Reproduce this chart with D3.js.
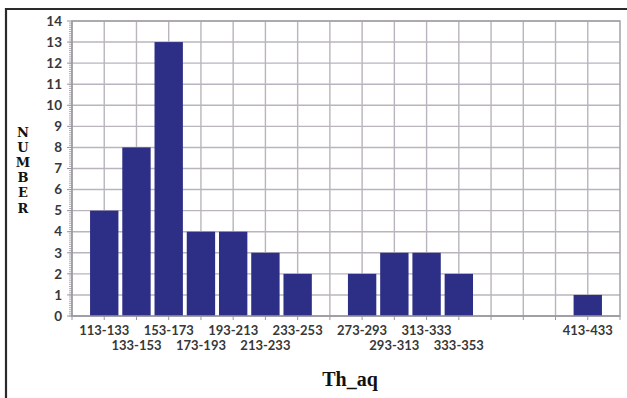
<!DOCTYPE html>
<html>
<head>
<meta charset="utf-8">
<script src="https://cdn.jsdelivr.net/npm/d3@7"></script>
<style>
  body { margin: 0; background: #fff; }
  svg { display: block; }
</style>
</head>
<body>
<div id="chart"></div>
<script>
const width = 627;
const height = 398;

// categories of Th_aq and how many samples fall in each
const categories = ["113-133", "133-153", "153-173", "173-193", "193-213", "213-233",
  "233-253", "253-273", "273-293", "293-313", "313-333", "333-353",
  "353-373", "373-393", "393-413", "413-433"];
const counts = [5, 8, 13, 4, 4, 3, 2, 0, 2, 3, 3, 2, 0, 0, 0, 1];
const yTicks = d3.range(0, 15);

const margin = {top: 20, right: 7, bottom: 82, left: 72};

const svg = d3.select("#chart")
  .append("svg")
    .attr("width", width)
    .attr("height", height);

// the page frame (only top and left edge show)
svg.append("path")
    .attr("d", `M6,${height} V9 H${width}`)
    .attr("fill", "none")
    .attr("stroke", "#2a2a2a")
    .attr("stroke-width", 2.2);

// one slot for each category plus a half slot on each side
const x = d3.scaleLinear()
    .domain([0, categories.length + 1])
    .range([margin.left, width - margin.right]);

const y = d3.scaleLinear()
    .domain([0, 14])
    .range([height - margin.bottom, margin.top + 1]);

const grid = svg.append("g")
    .attr("stroke", "#b9b4bd")
    .attr("stroke-width", 1.4);

grid.selectAll("line.h")
  .data(yTicks.slice(1))
  .join("line")
    .attr("class", "h")
    .attr("x1", x(0))
    .attr("x2", x(categories.length + 1))
    .attr("y1", d => y(d))
    .attr("y2", d => y(d));

grid.selectAll("line.v")
  .data(d3.range(1, categories.length + 1))
  .join("line")
    .attr("class", "v")
    .attr("x1", d => x(d))
    .attr("x2", d => x(d))
    .attr("y1", y(14))
    .attr("y2", y(0));

// plot area border
svg.append("rect")
    .attr("x", x(0))
    .attr("y", y(14))
    .attr("width", x(categories.length + 1) - x(0))
    .attr("height", y(0) - y(14))
    .attr("fill", "none")
    .attr("stroke", "#a4a0a8")
    .attr("stroke-width", 1.5);

const barWidth = (x(1) - x(0)) * 0.88;

svg.append("g")
    .attr("fill", "#2d2f86")
  .selectAll("rect")
  .data(counts.map((v, i) => ({cat: categories[i], v, i})).filter(d => d.v > 0))
  .join("rect")
    .attr("x", d => x(d.i + 1) - barWidth / 2)
    .attr("y", d => y(d.v))
    .attr("width", barWidth)
    .attr("height", d => y(0) - y(d.v));

// y axis with dense minor ticks
const yAxis = svg.append("g")
    .attr("transform", `translate(${x(0)},0)`);

yAxis.selectAll("line.minor")
  .data(d3.range(0, 140).map(d => d / 10))
  .join("line")
    .attr("class", "minor")
    .attr("x1", -3)
    .attr("x2", 0)
    .attr("y1", d => y(d))
    .attr("y2", d => y(d))
    .attr("stroke", "#9a96a0")
    .attr("stroke-width", 0.8);

yAxis.append("line")
    .attr("y1", y(0))
    .attr("y2", y(14))
    .attr("stroke", "#9a96a0")
    .attr("stroke-width", 1.2);

yAxis.selectAll("line.major")
  .data(yTicks)
  .join("line")
    .attr("class", "major")
    .attr("x1", -5)
    .attr("x2", 0)
    .attr("y1", d => y(d))
    .attr("y2", d => y(d))
    .attr("stroke", "#9a96a0");

yAxis.selectAll("text")
  .data(yTicks)
  .join("text")
    .attr("x", -10)
    .attr("y", d => y(d))
    .attr("dy", "0.35em")
    .attr("text-anchor", "end")
    .style("font", "bold 13.5px Lato, sans-serif")
    .attr("fill", "#383838")
    .text(d => d);

// x axis line and tick marks
const xAxis = svg.append("g")
    .attr("transform", `translate(0,${y(0)})`);

xAxis.append("line")
    .attr("x1", x(0))
    .attr("x2", x(categories.length + 1))
    .attr("stroke", "#9a96a0")
    .attr("stroke-width", 1.4);

xAxis.selectAll("line.tick")
  .data(d3.range(0, categories.length + 2))
  .join("line")
    .attr("class", "tick")
    .attr("x1", d => x(d))
    .attr("x2", d => x(d))
    .attr("y2", 4)
    .attr("stroke", "#9a96a0");

// labels only under filled categories, staggered in two rows
const labelled = counts.map((v, i) => ({cat: categories[i], v, i})).filter(d => d.v > 0);
xAxis.selectAll("text")
  .data(labelled)
  .join("text")
    .attr("x", d => x(d.i + 1))
    .attr("y", d => (d.i % 2 === 1 && counts[d.i - 1] > 0) ? 29 : 14)
    .attr("dy", "0.35em")
    .attr("text-anchor", "middle")
    .style("font", "bold 13px Lato, sans-serif")
    .attr("fill", "#383838")
    .text(d => d.cat);

// axis titles
svg.append("text")
    .attr("x", 350)
    .attr("y", 386)
    .attr("text-anchor", "middle")
    .style("font", "bold 20px 'Liberation Serif', serif")
    .attr("fill", "#111")
    .text("Th_aq");

// vertical title, one letter per line
svg.append("g")
    .style("font", "bold 13px 'DejaVu Serif', serif")
    .attr("fill", "#111")
    .attr("text-anchor", "middle")
  .selectAll("text")
  .data("NUMBER".split(""))
  .join("text")
    .attr("x", 23)
    .attr("y", (d, i) => 132 + i * 15.2)
    .attr("dy", "0.35em")
    .text(d => d);
</script>
</body>
</html>
